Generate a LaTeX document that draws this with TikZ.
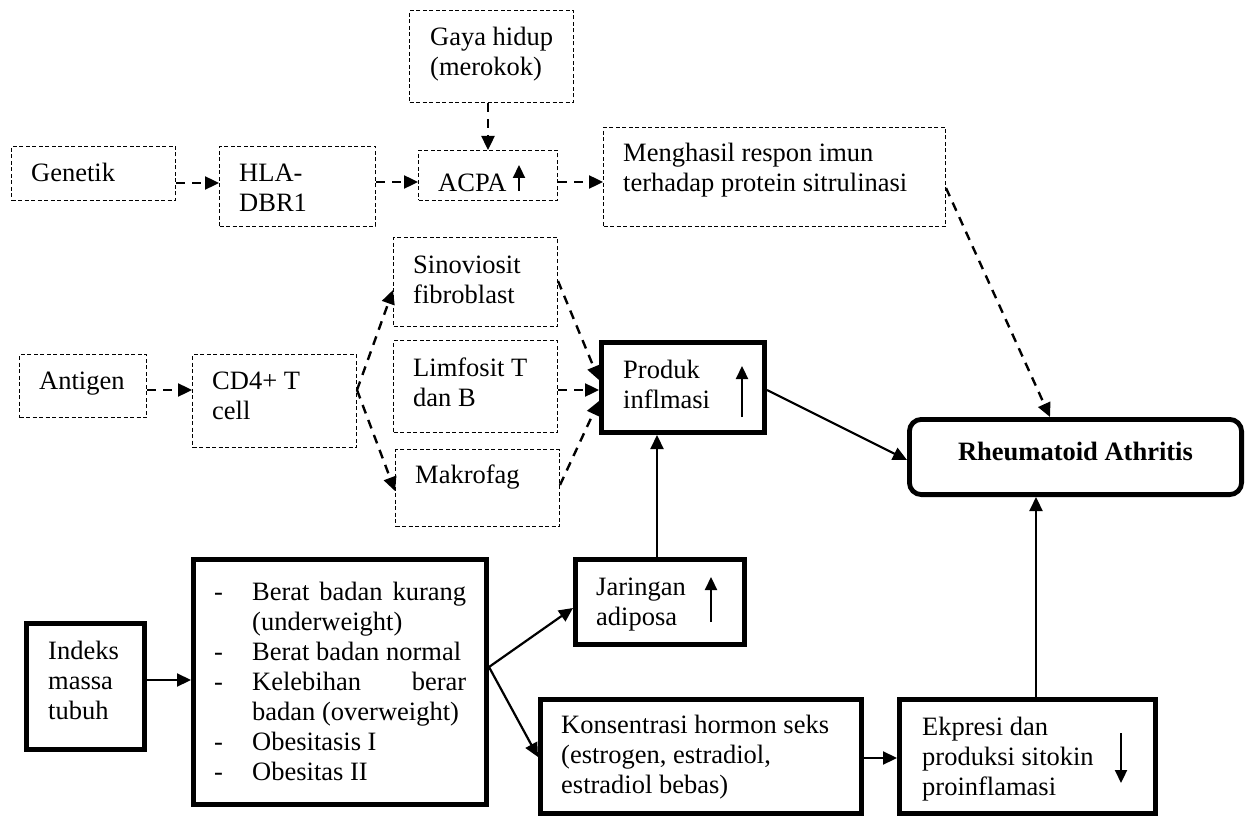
\documentclass[tikz,border=0pt]{standalone}
\usepackage{fontspec}
\setmainfont{Liberation Serif}
\usetikzlibrary{arrows.meta}
\tikzset{
  every node/.style={font=\fontsize{26.5}{30}\selectfont},
  dbox/.style={draw, dash pattern=on 4pt off 2.5pt, line width=1pt, inner sep=0pt, anchor=north west},
  tbox/.style={draw, line width=4.8pt, inner sep=0pt, anchor=north west},
  txt/.style={anchor=base west, inner sep=0pt, align=left},
  darr/.style={line width=2.4pt, dash pattern=on 9pt off 7pt, -{Triangle[length=14pt,width=13pt]}},
  sarr/.style={line width=2.2pt, -{Triangle[length=14pt,width=13pt]}},
  iarr/.style={line width=2.2pt, -{Triangle[length=13pt,width=12pt]}},
}
\begin{document}
\begin{tikzpicture}[x=1pt,y=-1pt]
\useasboundingbox (0,0) rectangle (1255,818);
% dashed boxes
\node[dbox, minimum width=164pt, minimum height=54pt] (gen) at (11,146) {};
\node[dbox, minimum width=156pt, minimum height=80pt] (hla) at (219,146) {};
\node[dbox, minimum width=164pt, minimum height=92pt] (gaya) at (409,10) {};
\node[dbox, minimum width=139pt, minimum height=50pt] (acpa) at (418,150) {};
\node[dbox, minimum width=342pt, minimum height=99pt] (meng) at (603,127) {};
\node[dbox, minimum width=164pt, minimum height=89pt] (sino) at (393,237) {};
\node[dbox, minimum width=164pt, minimum height=92pt] (limf) at (393,340) {};
\node[dbox, minimum width=164pt, minimum height=77pt] (makr) at (395,449) {};
\node[dbox, minimum width=127pt, minimum height=63pt] (anti) at (19,354) {};
\node[dbox, minimum width=164pt, minimum height=93pt] (cd4) at (192,354) {};
% thick boxes
\node[tbox, minimum width=163.2pt, minimum height=90.2pt] (prod) at (599,340) {};
\node[tbox, rounded corners=12pt, minimum width=332.2pt, minimum height=75.2pt] (ra) at (907,417) {};
\node[tbox, minimum width=118.2pt, minimum height=126.2pt] (idx) at (24,621) {};
\node[tbox, minimum width=293.2pt, minimum height=245.2pt] (berat) at (191,557) {};
\node[tbox, minimum width=169.2pt, minimum height=85.2pt] (jar) at (573,557) {};
\node[tbox, minimum width=321.2pt, minimum height=114.2pt] (kons) at (538,697) {};
\node[tbox, minimum width=256.2pt, minimum height=114.2pt] (ekp) at (897,697) {};
% texts (base anchor = baseline of the last line)
\node[txt] (gent) at (31,182) {Genetik};
\node[txt] (hlat) at (239,212) {HLA-\\DBR1};
\node[txt] (gayat) at (430,76) {Gaya hidup\\(merokok)};
\node[txt] (acpat) at (438,192) {ACPA};
\node[txt] (mengt) at (623,192) {Menghasil respon imun\\terhadap protein sitrulinasi};
\node[txt] (sinot) at (413,303) {Sinoviosit\\fibroblast};
\node[txt] (limft) at (413,406) {Limfosit T\\dan B};
\node[txt] (makrt) at (415,483) {Makrofag};
\node[txt] (antit) at (39,389) {Antigen};
\node[txt] (cd4t) at (212,419) {CD4+ T\\cell};
\node[txt] (prodt) at (623,408) {Produk\\inflmasi};
\node[anchor=base, inner sep=0pt] (rat) at (1075.5,460) {\textbf{Rheumatoid Athritis}};
\node[txt] (idxt) at (48,719) {Indeks\\massa\\tubuh};
\node[txt] (beratt) at (214,600) {\begin{tabular}[t]{@{}p{38pt}@{}l@{}}
-&\makebox[214pt][s]{Berat\hfill badan\hfill kurang}\\
&(underweight)\\
-&Berat badan normal\\
-&\makebox[214pt][s]{Kelebihan\hfill berar}\\
&badan (overweight)\\
-&Obesitasis I\\
-&Obesitas II
\end{tabular}};
\node[txt] (jart) at (596,625) {Jaringan\\adiposa};
\node[txt] (konst) at (561,793) {Konsentrasi hormon seks\\(estrogen, estradiol,\\estradiol bebas)};
\node[txt] (ekpt) at (922,795) {Ekpresi dan\\produksi sitokin\\proinflamasi};
% inner trend arrows
\draw[iarr] (519,191) -- (519,165);
\draw[iarr] (742,417) -- (742,366);
\draw[iarr] (711,622) -- (711,577);
\draw[iarr] (1121,733) -- (1121,783);
% dashed connectors
\draw[darr] (gen.east |- 0,183) -- (hla.west |- 0,183);
\draw[darr] (hla.east |- 0,182) -- (acpa.west |- 0,182);
\draw[darr] (gaya.south -| acpa.north) -- (acpa.north);
\draw[darr] (acpa.east |- 0,182) -- (meng.west |- 0,182);
\draw[darr] (meng.east |- 0,188) -- (ra.north -| 1050,0);
\draw[darr] (anti.east |- 0,390) -- (cd4.west |- 0,390);
\draw[darr] (cd4.east |- 0,390) -- (sino.west |- 0,290);
\draw[darr] (cd4.east |- 0,390) -- (makr.west |- 0,491);
\draw[darr] (sino.east |- 0,281) -- (prod.west |- 0,380);
\draw[darr] (limf.east |- 0,390) -- (prod.west |- 0,390);
\draw[darr] (makr.east |- 0,485) -- (prod.west |- 0,401);
% solid connectors
\draw[sarr] (prod.east |- 0,390) -- (ra.west |- 0,460);
\draw[sarr] (jar.north -| 657,0) -- (prod.south -| 657,0);
\draw[sarr] (idx.east |- 0,680) -- (berat.west |- 0,680);
\draw[sarr] (berat.east |- 0,667) -- (jar.west |- 0,608);
\draw[sarr] (berat.east |- 0,667) -- (kons.west |- 0,757);
\draw[sarr] (kons.east |- 0,758) -- (ekp.west |- 0,758);
\draw[sarr] (ekp.north -| 1036,0) -- (ra.south -| 1036,0);
\end{tikzpicture}
\end{document}
